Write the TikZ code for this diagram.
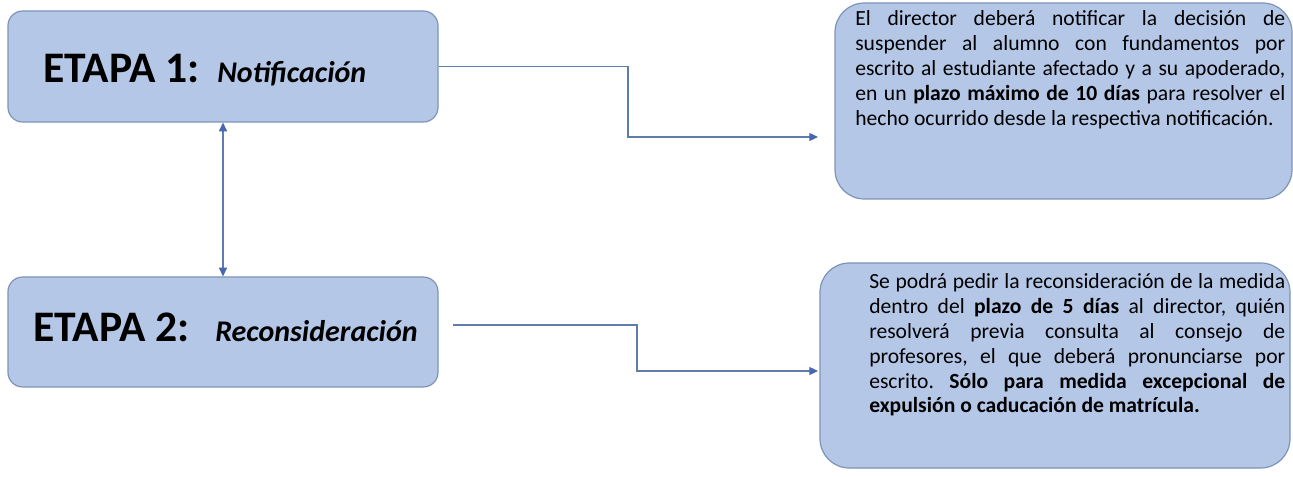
\documentclass[tikz,border=0pt]{standalone}
\usepackage{fontspec}
\setmainfont{Carlito}
\usetikzlibrary{arrows.meta}
\definecolor{boxfill}{RGB}{180,199,231}
\definecolor{boxline}{RGB}{125,148,182}
\definecolor{conline}{RGB}{96,124,172}
\definecolor{tipcol}{RGB}{70,104,178}
\frenchspacing
\begin{document}
\begin{tikzpicture}[x=0.75pt,y=-0.75pt,
  box/.style={draw=boxline, fill=boxfill, line width=0.9pt, rounded corners=#1, inner sep=0pt},
  conn/.style={draw=conline, line width=0.9pt, -{Triangle[length=6.5pt,width=6pt,fill=tipcol,color=tipcol]}},
  dconn/.style={draw=conline, line width=0.9pt, {Triangle[length=6.5pt,width=6pt,fill=tipcol,color=tipcol]}-{Triangle[length=6.5pt,width=6pt,fill=tipcol,color=tipcol]}},
  etapa/.style={anchor=base west, inner sep=0pt, font=\fontsize{32.7}{40}\selectfont\bfseries},
  etname/.style={anchor=base west, inner sep=0pt, font=\fontsize{22.5}{28}\selectfont\bfseries\itshape},
  body/.style={anchor=base west, inner sep=0pt}
]
\useasboundingbox (0,0) rectangle (1293,477);
\fill[white] (0,0) rectangle (1293,477);

% boxes
\node[box=11pt, minimum width=322.5pt, minimum height=83.25pt] (e1) at (223,66.5) {};
\node[box=11pt, minimum width=322.5pt, minimum height=82.5pt] (e2) at (223,332) {};
\node[box=22pt, minimum width=342.75pt, minimum height=147pt] (d1) at (1063.5,101) {};
\node[box=22pt, minimum width=352.5pt, minimum height=153.75pt] (d2) at (1055,365.5) {};

% titles
\node[etapa] (t1a) at (43,83) {ETAPA 1:};
\node[etname] (t1b) at (217,83) {Notificación};
\node[etapa] (t2a) at (33,342) {ETAPA 2:};
\node[etname] (t2b) at (215,342) {Reconsideración};

% body texts
\node[body] (x1) at (855,26) {\parbox[t]{322.5pt}{\fontsize{16.2}{18.75}\selectfont
El director deberá notificar la decisión de\linebreak
suspender al alumno con fundamentos por\linebreak
escrito al estudiante afectado y a su apoderado,\linebreak
en un \textbf{plazo máximo de 10 días} para resolver el\linebreak
hecho ocurrido desde la respectiva notificación.}};
\node[body] (x2) at (869,289) {\parbox[t]{312pt}{\fontsize{16.2}{18.6}\selectfont
Se podrá pedir la reconsideración de la medida\linebreak
dentro del \textbf{plazo de 5 días} al director, quién\linebreak
resolverá previa consulta al consejo de\linebreak
profesores, el que deberá pronunciarse por\linebreak
escrito. \textbf{Sólo para medida excepcional de\linebreak
expulsión o caducación de matrícula.}}};

% connectors
\coordinate (k1) at (628,137);
\coordinate (t1) at (818,137);
\draw[conn] (e1.east) -| (k1) -- (t1);
\coordinate (s2) at (453,325);
\coordinate (k2) at (637,371);
\coordinate (t2) at (818,371);
\draw[conn] (s2) -| (k2) -- (t2);
\draw[dconn] (e1.south) -- (e2.north);
\end{tikzpicture}
\end{document}
